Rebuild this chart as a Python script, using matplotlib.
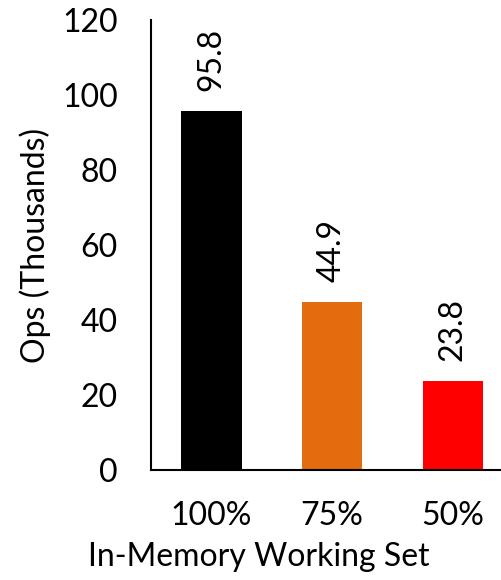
import numpy as np
import matplotlib.pyplot as plt

plt.rcParams['font.family'] = ['Lato', 'DejaVu Sans']

# data
categories = ['100%', '75%', '50%']
ops_thousands = [95.8, 44.9, 23.8]
bar_colors = ['#000000', '#E36C0E', '#FF0000']

fig = plt.figure(figsize=(5.01, 5.8), dpi=100)
# plot area: x 151..501 px, y 20..470 px (from top)
ax = fig.add_axes([151/501, 110/580, 350/501, 450/580])

x = np.arange(len(categories))
bars = ax.bar(x, ops_thousands, width=0.5, color=bar_colors)
ax.bar_label(bars, labels=[f'{v:.1f}' for v in ops_thousands],
             rotation=90, padding=14, fontsize=23)

ax.set_xlim(-0.5, 2.4)
ax.set_ylim(0, 120)
ax.set_yticks(range(0, 121, 20))
ax.set_xticks(x)
ax.set_xticklabels(categories)
ax.tick_params(axis='both', length=0, labelsize=23)
ax.tick_params(axis='x', pad=22)
ax.tick_params(axis='y', pad=24)

for s in ['top', 'right']:
    ax.spines[s].set_visible(False)
for s in ['left', 'bottom']:
    ax.spines[s].set_linewidth(1.5)

ax.set_ylabel('Ops (Thousands)', fontsize=23, va='center')
ax.yaxis.set_label_coords((35 - 151) / 350, 0.5)
ax.set_xlabel('In-Memory Working Set', fontsize=23, va='center')
ax.xaxis.set_label_coords((259 - 151) / 350, -(557 - 470) / 450)

fig.savefig('out.png', dpi=100)
